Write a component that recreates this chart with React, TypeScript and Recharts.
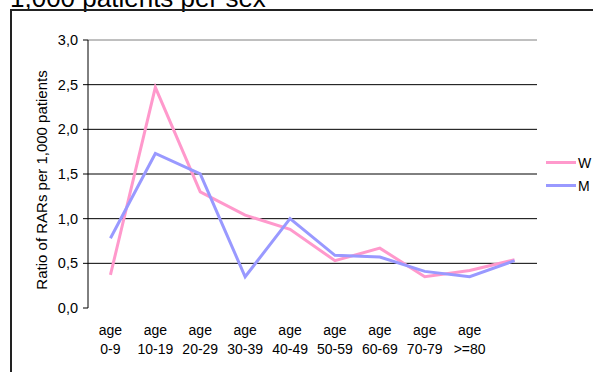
import React from 'react';
import {
  LineChart,
  Line,
  XAxis,
  YAxis,
  CartesianGrid,
  ReferenceLine,
  Legend,
} from 'recharts';

// Age groups (the last category carries no label)
const ageGroups = [
  'age 0-9',
  'age 10-19',
  'age 20-29',
  'age 30-39',
  'age 40-49',
  'age 50-59',
  'age 60-69',
  'age 70-79',
  'age >=80',
  '',
];

// Ratio of RARs per 1,000 patients
const womenRatio = [0.37, 2.47, 1.3, 1.04, 0.88, 0.53, 0.67, 0.35, 0.42, 0.54];
const menRatio = [0.78, 1.73, 1.5, 0.35, 1.0, 0.59, 0.57, 0.41, 0.35, 0.53];

const seriesNames = ['W', 'M'];
const yTicks = [0, 0.5, 1, 1.5, 2, 2.5, 3];
const gridValues = [0.5, 1, 1.5, 2, 2.5];
const boundaryTicks = [0, 1, 2, 3, 4, 5, 6, 7, 8, 9, 10];

const titleText = '1,000 patients per sex';
const yAxisTitle = 'Ratio of RARs per 1,000 patients';

const data = ageGroups.map((group, i) => ({
  group,
  pos: i + 0.5,
  W: womenRatio[i],
  M: menRatio[i],
}));

const FONT = '"Liberation Sans", Arial, sans-serif';
const PINK = '#FF99CC';
const BLUE = '#9999FF';

const formatComma = (v: number) => v.toFixed(1).replace('.', ',');

const EmptyTick = () => <g />;

const AgeTick = (props: any) => {
  const { x, y, payload } = props;
  const label: string = payload.value || '';
  if (!label) return <g />;
  const idx = label.indexOf(' ');
  const first = label.slice(0, idx);
  const second = label.slice(idx + 1);
  return (
    <text x={x} y={y} textAnchor="middle" fontSize={14} fill="#000" fontFamily={FONT}>
      <tspan x={x} dy={27}>
        {first}
      </tspan>
      <tspan x={x} dy={19}>
        {second}
      </tspan>
    </text>
  );
};

const renderLegend = (props: any) => {
  const items: any[] = props.payload || [];
  const ordered = seriesNames
    .map((name) => items.find((it) => it.value === name))
    .filter(Boolean);
  return (
    <div style={{ fontFamily: FONT }}>
      {ordered.map((entry: any) => (
        <div
          key={entry.value}
          style={{ display: 'flex', alignItems: 'center', height: 23 }}
        >
          <span
            style={{ display: 'inline-block', width: 30, height: 3, background: entry.color }}
          />
          <span style={{ marginLeft: 2, fontSize: 14, color: '#000' }}>{entry.value}</span>
        </div>
      ))}
    </div>
  );
};

export default function App() {
  return (
    <div
      style={{
        position: 'absolute',
        left: 0,
        top: 0,
        width: 593,
        height: 372,
        overflow: 'hidden',
        background: '#fff',
        fontFamily: FONT,
      }}
    >
      <div
        style={{
          position: 'absolute',
          left: 10,
          top: -15,
          fontSize: 26,
          lineHeight: '26px',
          color: '#000',
          whiteSpace: 'nowrap',
        }}
      >
        {titleText}
      </div>
      {/* chart frame: its right and bottom edges lie outside the view */}
      <div
        style={{
          position: 'absolute',
          left: 10,
          top: 9,
          width: 583,
          height: 363,
          borderTop: '2px solid #222',
          borderLeft: '2px solid #222',
          boxSizing: 'border-box',
        }}
      />
      <LineChart
        width={593}
        height={372}
        data={data}
        margin={{ top: 40, right: 56, bottom: 24, left: 0 }}
        style={{ position: 'absolute', left: 0, top: 0 }}
      >
        <CartesianGrid
          xAxisId="cat"
          yAxisId="left"
          vertical={false}
          horizontalValues={gridValues}
          stroke="#000"
          strokeOpacity={1}
        />
        <XAxis
          xAxisId="bounds"
          type="number"
          dataKey="pos"
          domain={[0, 10]}
          ticks={boundaryTicks}
          allowDataOverflow
          tick={EmptyTick}
          tickSize={5}
          height={0}
          axisLine={{ stroke: '#000' }}
          tickLine={{ stroke: '#000' }}
        />
        <XAxis
          xAxisId="cat"
          dataKey="group"
          scale="band"
          interval={0}
          height={40}
          axisLine={false}
          tickLine={false}
          tickSize={0}
          tickMargin={0}
          tick={<AgeTick />}
        />
        <YAxis
          yAxisId="left"
          domain={[0, 3]}
          ticks={yTicks}
          width={88}
          tickFormatter={formatComma}
          tickSize={5}
          tickMargin={5}
          axisLine={{ stroke: '#000' }}
          tickLine={{ stroke: '#000' }}
          tick={{ fill: '#000', fontSize: 14.5, fontFamily: FONT }}
          label={{
            value: yAxisTitle,
            angle: -90,
            position: 'center',
            dx: -2,
            dy: 6,
            fontSize: 15,
            fill: '#000',
            fontFamily: FONT,
          }}
        />
        <YAxis
          yAxisId="right"
          orientation="right"
          domain={[0, 3]}
          width={0}
          tick={false}
          tickLine={false}
          axisLine={{ stroke: '#808080' }}
        />
        <ReferenceLine xAxisId="cat" yAxisId="left" y={3} stroke="#808080" />
        <Legend
          layout="vertical"
          align="center"
          verticalAlign="middle"
          content={renderLegend}
          wrapperStyle={{ left: 546, top: 151, width: 47 }}
        />
        <Line
          xAxisId="cat"
          yAxisId="left"
          type="linear"
          dataKey="W"
          name="W"
          stroke={PINK}
          strokeWidth={3}
          dot={false}
          activeDot={false}
          isAnimationActive={false}
        />
        <Line
          xAxisId="cat"
          yAxisId="left"
          type="linear"
          dataKey="M"
          name="M"
          stroke={BLUE}
          strokeWidth={3}
          dot={false}
          activeDot={false}
          isAnimationActive={false}
        />
      </LineChart>
    </div>
  );
}
